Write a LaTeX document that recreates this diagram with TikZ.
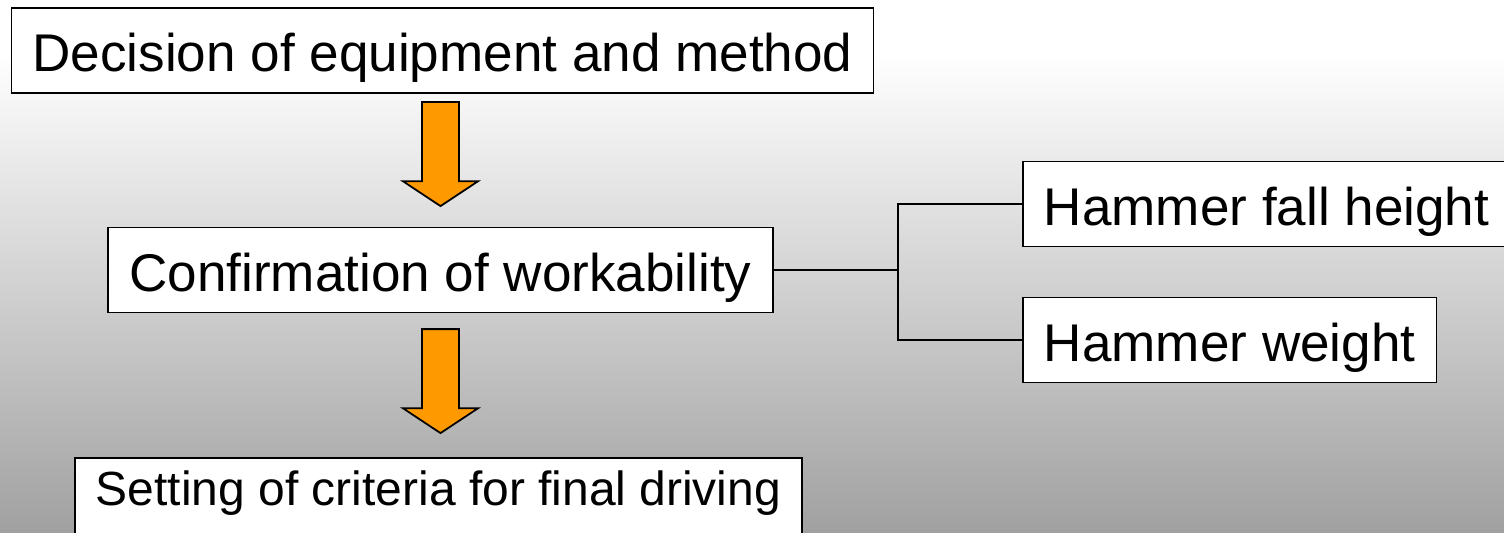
\documentclass[tikz,border=0pt]{standalone}
\usepackage{fontspec}
\setmainfont{Liberation Sans}
\usetikzlibrary{positioning,shapes.arrows,calc}
\definecolor{arroworange}{RGB}{255,153,0}
\pgfdeclareverticalshading{slidefade}{100bp}{color(0bp)=(black!37); color(25bp)=(black!37); color(70bp)=(white); color(100bp)=(white)}
\tikzset{
    block/.style = {
        draw,
        shape=rectangle,
        fill=white,
        minimum height=1.7cm,
        inner xsep=0.42cm,
        inner ysep=0pt,
        text height=0.84cm,
        text depth=0pt,
        line width=1.1pt,
        font=\fontsize{30.2}{36}\selectfont
    },
    smallblock/.style = {
        block,
        minimum height=0pt,
        inner ysep=0.26cm,
        text height=0.7cm,
        text depth=0.3cm,
        font=\fontsize{27.3}{32}\selectfont
    },
    downarrow/.style = {
        draw,
        fill=arroworange,
        shape=single arrow,
        rotate=-90,
        minimum height=2.08cm,
        minimum width=1.5cm,
        single arrow head extend=0.38cm,
        single arrow tip angle=113,
        inner xsep=0pt,
        inner ysep=0.35cm,
        line width=1pt
    },
    branch/.style = {
        draw,
        line width=1.1pt
    },
}

\begin{document}
\begin{tikzpicture}[x=0.02cm, y=-0.02cm]
        \path[use as bounding box] (0,0) rectangle (1504,532);
        \clip (0,0) rectangle (1504,532);
        \shade[shading=slidefade] (0,0) rectangle (1504,532);

        \node[block] (decision) at (442.5,50.5) {Decision of equipment and method};
        \node[block] (confirm) at (440.5,270) {Confirmation of workability};
        \node[block, anchor=west] (fallheight) at (1022,204) {Hammer fall height};
        \node[block, anchor=west] (weight) at (1022,340) {Hammer weight};
        \node[smallblock, anchor=north] (criteria) at (438.5,457) {Setting of criteria for final driving};

        \node[downarrow] (arrowa) at (440.5,148) {};
        \node[downarrow] (arrowb) at (440.5,375) {};

        \coordinate (fork) at (898,270);
        \path[branch] (confirm.east) -- (fork);
        \path[branch] (fork) |- (fallheight.west);
        \path[branch] (fork) |- (weight.west);
\end{tikzpicture}
\end{document}
